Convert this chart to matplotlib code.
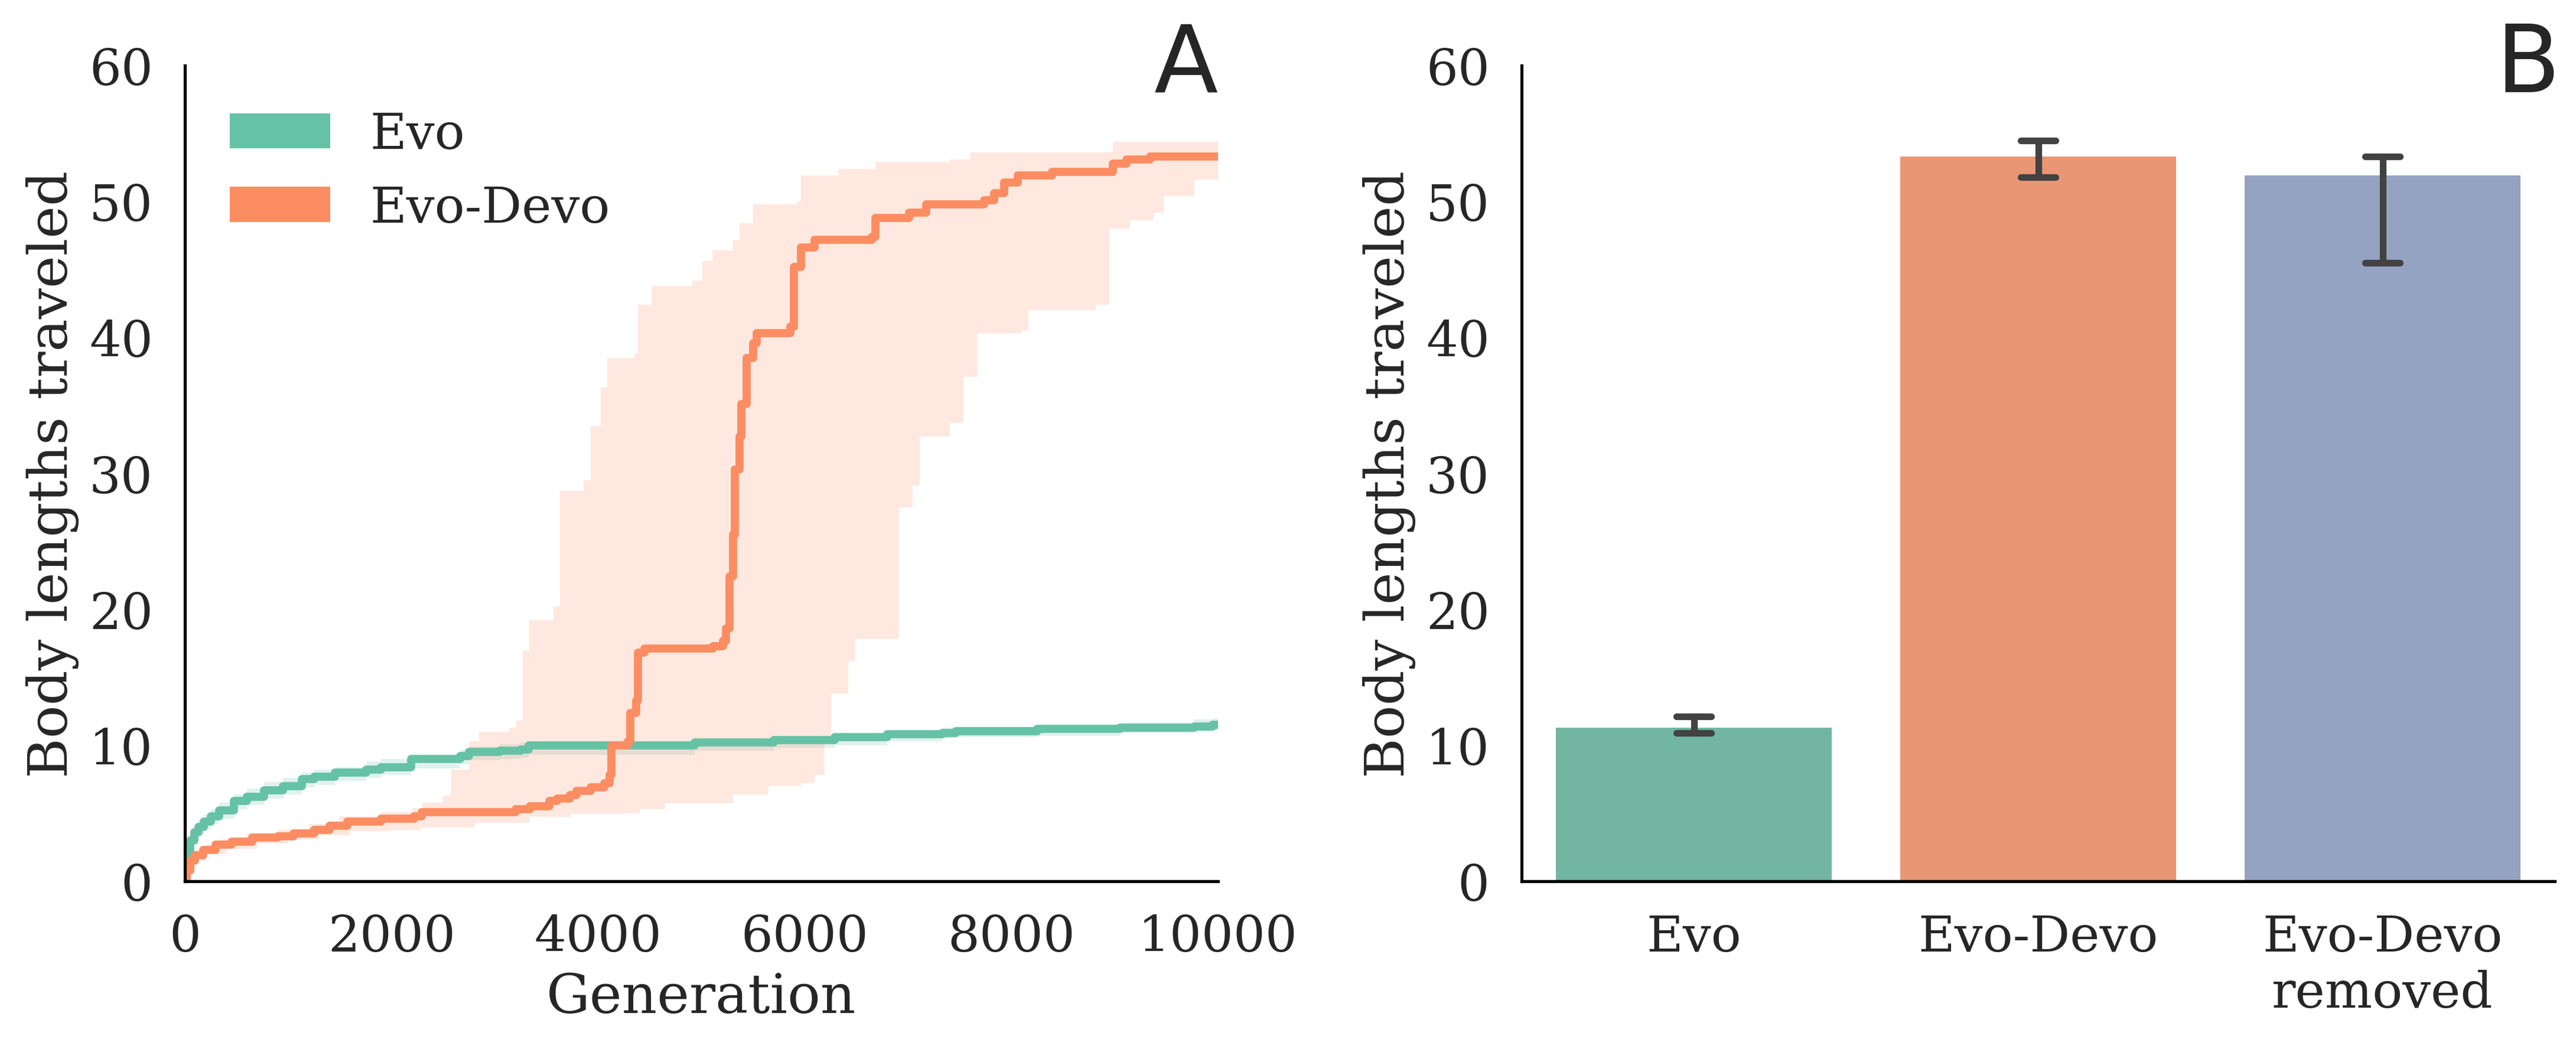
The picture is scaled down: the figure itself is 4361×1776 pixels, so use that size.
import colorsys
import numpy as np
import matplotlib
matplotlib.use("Agg")
import matplotlib.pyplot as plt
import matplotlib.colors as mcolors
from matplotlib.patches import Patch

# ---------------- data: panel A (step curves) ----------------
evo_gen = [0, 15, 35, 52, 90, 130, 182, 250, 330, 475, 600, 768, 950, 1130, 1250,
           1450, 1755, 1900, 2190, 2666, 2750, 3050, 3250, 3325, 4935, 5700, 6290,
           6800, 7330, 7460, 8250, 9050, 9770, 9950, 10000]
evo_mean = [0.0, 1.3, 2.0, 3.0, 3.6, 4.0, 4.4, 4.8, 5.2, 5.9, 6.2, 6.7, 7.0, 7.5, 7.7,
            8.0, 8.2, 8.4, 9.0, 9.2, 9.5, 9.6, 9.7, 10.0, 10.2, 10.4, 10.6,
            10.8, 10.9, 11.05, 11.2, 11.3, 11.4, 11.5, 11.5]
evo_hi = [0.0, 2.0, 2.8, 3.6, 4.1, 4.5, 4.9, 5.3, 5.8, 6.4, 6.8, 7.3, 7.6, 8.0, 8.2,
          8.4, 8.8, 9.0, 9.3, 9.7, 9.9, 10.1, 10.2, 10.3, 10.5, 10.6, 10.8,
          11.1, 11.3, 11.4, 11.5, 11.7, 11.9, 12.0, 12.0]
evo_lo = [0.0, 0.7, 1.3, 2.3, 3.0, 3.4, 3.8, 4.2, 4.6, 5.3, 5.6, 6.1, 6.4, 6.9, 7.1,
          7.4, 7.6, 7.8, 8.3, 8.6, 8.9, 9.0, 9.1, 9.3, 9.6, 9.8, 10.0,
          10.3, 10.5, 10.6, 10.7, 10.9, 11.0, 11.1, 11.1]

devo_gen = [0, 20, 50, 100, 180, 300, 450, 650, 900, 1050, 1250, 1400, 1570, 1900,
            2220, 2290, 3200, 3340, 3530, 3600, 3730, 3790, 3930, 4060, 4110, 4128,
            4290, 4310, 4370, 4386, 4450, 5110, 5207, 5240, 5272, 5305, 5325, 5371,
            5384, 5437, 5502, 5535, 5863, 5896, 5962, 6093, 6651, 6684, 7012, 7177,
            7735, 7833, 7932, 8063, 8391, 8982, 9114, 9343, 10000]
devo_mean = [0.0, 0.8, 1.5, 1.9, 2.3, 2.7, 2.9, 3.2, 3.3, 3.5, 3.8, 4.1, 4.4, 4.6,
             4.8, 5.1, 5.3, 5.5, 5.9, 6.1, 6.35, 6.65, 6.9, 7.2, 7.8, 10.0,
             10.3, 12.4, 13.3, 16.8, 17.1, 17.3, 17.7, 18.6, 22.4, 25.5, 30.3, 32.7,
             35.1, 38.5, 39.6, 40.3, 40.8, 45.2, 46.6, 47.2, 47.4, 48.8, 49.2, 49.8,
             50.1, 50.6, 51.4, 51.9, 52.2, 52.8, 53.1, 53.3, 53.3]

devo_hi_gen = [0, 20, 50, 100, 200, 350, 600, 900, 1200, 1500, 1900, 2200, 2300, 2500,
               2580, 2750, 2850, 3140, 3210, 3270, 3336, 3565, 3631, 3861, 3926, 4025,
               4090, 4353, 4386, 4517, 4911, 5010, 5108, 5305, 5371, 5502, 5929, 5962,
               6323, 6684, 7406, 7603, 8982, 10000]
devo_hi = [0.0, 1.2, 1.9, 2.3, 2.7, 3.1, 3.5, 3.8, 4.2, 4.8, 5.1, 5.4, 5.8, 6.3,
           8.2, 10.3, 11.0, 11.3, 11.8, 17.0, 19.2, 20.2, 28.7, 29.5, 33.5, 36.3,
           38.5, 38.8, 42.4, 43.8, 44.2, 45.6, 46.4, 47.2, 48.4, 49.8, 50.0, 51.9,
           52.4, 52.9, 53.1, 53.6, 54.4, 54.5]

devo_lo_gen = [0, 20, 50, 100, 200, 400, 700, 1000, 1300, 1600, 2000, 2285, 2800, 3336,
               3729, 4255, 4400, 4649, 5305, 5650, 5962, 6093, 6192, 6257, 6421, 6487,
               6914, 7045, 7110, 7406, 7538, 7669, 8096, 8162, 8818, 8949, 9146, 9376,
               9474, 9770, 10000]
devo_lo = [0.0, 0.4, 1.0, 1.5, 2.0, 2.4, 2.8, 3.1, 3.4, 3.7, 3.8, 3.95, 4.3, 4.75,
           4.95, 5.0, 5.3, 5.75, 6.4, 7.0, 7.2, 7.8, 10.6, 13.8, 16.2, 17.8,
           27.5, 29.1, 32.7, 33.7, 37.1, 40.3, 40.5, 42.0, 42.4, 48.0, 48.6, 49.2,
           50.4, 51.6, 52.0]

series_labels = ["Evo", "Evo-Devo"]

# ---------------- data: panel B (bars) ----------------
bar_labels = ["Evo", "Evo-Devo", "Evo-Devo\nremoved"]
bar_values = [11.3, 53.3, 51.9]
bar_err_lo = [10.9, 51.8, 45.5]
bar_err_hi = [12.1, 54.5, 53.3]

# ---------------- style ----------------
GREEN, ORANGE, BLUE = "#66c2a5", "#fc8d62", "#8da0cb"
TXT = "#262626"
plt.rcParams.update({
    "font.family": ["DejaVu Serif"],
    "text.color": TXT,
    "axes.labelcolor": TXT,
    "xtick.color": TXT,
    "ytick.color": TXT,
    "axes.linewidth": 1.25,
    "axes.edgecolor": "black",
})
TICK_FS = 20.35
LABEL_FS = 22.2
PANEL_FS = 38
LINE_W = 3.3


def desat(c, prop):
    r, g, b = mcolors.to_rgb(c)
    h, l, s = colorsys.rgb_to_hls(r, g, b)
    return colorsys.hls_to_rgb(h, l, s * prop)


def step_hold(gx, gy, grid):
    idx = np.searchsorted(np.asarray(gx), grid, side="right") - 1
    return np.asarray(gy)[idx]


W, H = 4361, 1777
fig = plt.figure(figsize=(W / 300, H / 300), dpi=300)
axw = 1749 / W
axh = 1381 / H
bot = 1 - 1493 / H
axA = fig.add_axes([313 / W, bot, axw, axh])
axB = fig.add_axes([2576 / W, bot, axw, axh])

for ax in (axA, axB):
    ax.spines["top"].set_visible(False)
    ax.spines["right"].set_visible(False)
    ax.tick_params(length=0, pad=13, labelsize=TICK_FS)
    ax.set_ylim(0, 60)
    ax.set_yticks(range(0, 61, 10))
    ax.set_ylabel("Body lengths traveled", fontsize=LABEL_FS)

# ---- panel A ----
axA.fill_between(evo_gen, evo_lo, evo_hi, step="post", color=GREEN, alpha=0.2, lw=0)
grid = np.union1d(devo_hi_gen, devo_lo_gen)
axA.fill_between(grid, step_hold(devo_lo_gen, devo_lo, grid),
                 step_hold(devo_hi_gen, devo_hi, grid),
                 step="post", color=ORANGE, alpha=0.2, lw=0)
axA.plot(evo_gen, evo_mean, drawstyle="steps-post", color=GREEN, lw=LINE_W)
axA.plot(devo_gen, devo_mean, drawstyle="steps-post", color=ORANGE, lw=LINE_W)
axA.set_xlim(0, 10000)
axA.set_xticks(range(0, 10001, 2000))
axA.set_xlabel("Generation", fontsize=LABEL_FS)
handles = [Patch(facecolor=GREEN, label=series_labels[0]),
           Patch(facecolor=ORANGE, label=series_labels[1])]
axA.legend(handles=handles, loc="upper left", frameon=False, fontsize=TICK_FS)
axA.text(1.0, 0.968, "A", transform=axA.transAxes, ha="right", va="baseline",
         fontsize=PANEL_FS, family="DejaVu Sans", color=TXT)

# ---- panel B ----
pos = np.arange(len(bar_labels))
bar_colors = [desat(c, 0.75) for c in (GREEN, ORANGE, BLUE)]
axB.bar(pos, bar_values, width=0.8, color=bar_colors, lw=0)
for x, lo, hi in zip(pos, bar_err_lo, bar_err_hi):
    axB.plot([x, x], [lo, hi], color="#424242", lw=2.7, solid_capstyle="round")
    axB.plot([x - 0.05, x + 0.05], [lo, lo], color="#424242", lw=2.7, solid_capstyle="round")
    axB.plot([x - 0.05, x + 0.05], [hi, hi], color="#424242", lw=2.7, solid_capstyle="round")
axB.set_xlim(-0.5, len(bar_labels) - 0.5)
axB.set_xticks(pos)
axB.set_xticklabels(bar_labels)
axB.text(1.005, 0.968, "B", transform=axB.transAxes, ha="right", va="baseline",
         fontsize=PANEL_FS, family="DejaVu Sans", color=TXT)

fig.savefig("out.png", dpi=300)
